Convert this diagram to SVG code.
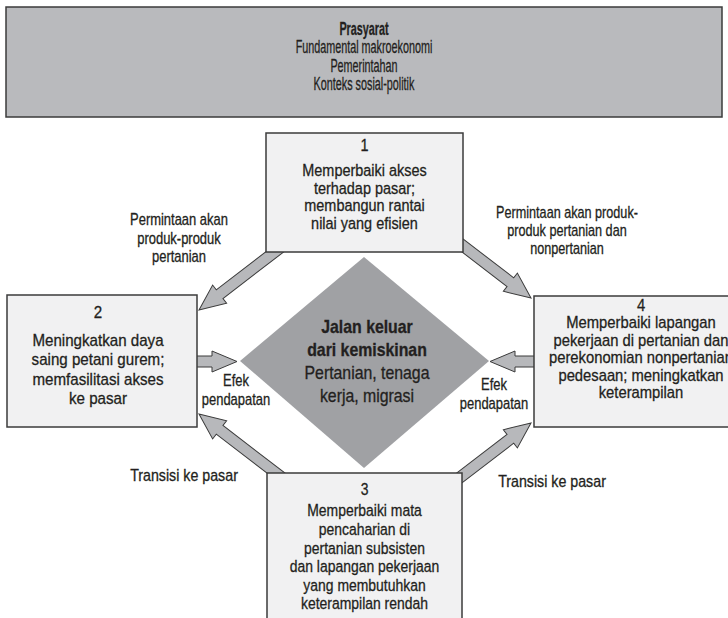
<svg xmlns="http://www.w3.org/2000/svg" width="728" height="618" viewBox="0 0 728 618">
<style>
.box{fill:#f1f1f2;stroke:#3b3b3b;stroke-width:1.5}
.top{fill:#b9babd;stroke:#3b3b3b;stroke-width:1.5}
.arrow{fill:#b7b8bb;stroke:#3b3b3b;stroke-width:1;stroke-linejoin:miter}
.diamond{fill:#a0a1a4}
text{font-family:"Liberation Sans",Arial,sans-serif;fill:#231f20;stroke:#231f20;stroke-width:0.3;text-anchor:middle}
.bt{font-size:17px}
.tp{font-size:18px}
.lb{font-size:16px}
.dm{font-size:18px}
.b{font-weight:bold}
</style>
<rect width="728" height="618" fill="#ffffff"/>
<g id="connectors">
  <polygon class="arrow" transform="translate(199 310) rotate(142.5)" points="-115,-5.5 -26,-5.5 -26,-11.5 0,0 -26,11.5 -26,5.5 -115,5.5"/>
  <polygon class="arrow" transform="translate(531 298) rotate(37.5)" points="-115,-5.5 -26,-5.5 -26,-11.5 0,0 -26,11.5 -26,5.5 -115,5.5"/>
  <polygon class="arrow" transform="translate(199 414) rotate(-142.5)" points="-120,-5.5 -26,-5.5 -26,-11.5 0,0 -26,11.5 -26,5.5 -120,5.5"/>
  <polygon class="arrow" transform="translate(531 423) rotate(-37.5)" points="-120,-5.5 -26,-5.5 -26,-11.5 0,0 -26,11.5 -26,5.5 -120,5.5"/>
  <polygon class="arrow" transform="translate(237 361.5)" points="-50,-5.5 -25,-5.5 -25,-10.5 0,0 -25,10.5 -25,5.5 -50,5.5"/>
  <polygon class="arrow" transform="translate(490 361.5) rotate(180)" points="-55,-5.5 -25,-5.5 -25,-10.5 0,0 -25,10.5 -25,5.5 -55,5.5"/>
</g>
<g id="prasyarat">
  <rect class="top" x="6" y="7" width="716" height="110"/>
  <g transform="translate(364 0) scale(0.6 1)">
    <text class="tp b" x="0" y="35">Prasyarat</text>
    <text class="tp" x="0" y="53.5">Fundamental makroekonomi</text>
    <text class="tp" x="0" y="72">Pemerintahan</text>
    <text class="tp" x="0" y="90.5">Konteks sosial-politik</text>
  </g>
</g>
<g id="node1">
  <rect class="box" x="266" y="133" width="197" height="119"/>
  <g transform="translate(364.5 0) scale(0.85 1)">
    <text class="bt" x="0" y="151.5">1</text>
    <text class="bt" x="0" y="176.5">Memperbaiki akses</text>
    <text class="bt" x="0" y="194">terhadap pasar;</text>
    <text class="bt" x="0" y="211.5">membangun rantai</text>
    <text class="bt" x="0" y="229">nilai yang efisien</text>
  </g>
</g>
<g id="node2">
  <rect class="box" x="7" y="295" width="190" height="132"/>
  <g transform="translate(98 0) scale(0.89 1)">
    <text class="bt" x="0" y="318">2</text>
    <text class="bt" x="0" y="346">Meningkatkan daya</text>
    <text class="bt" x="0" y="365.5">saing petani gurem;</text>
    <text class="bt" x="0" y="385">memfasilitasi akses</text>
    <text class="bt" x="0" y="404.5">ke pasar</text>
  </g>
</g>
<g id="node4">
  <rect class="box" x="534" y="296" width="216" height="131"/>
  <g transform="translate(641 0) scale(0.87 1)">
    <text class="bt" x="0" y="311.5">4</text>
    <text class="bt" x="0" y="328.5">Memperbaiki lapangan</text>
    <text class="bt" x="0" y="346">pekerjaan di pertanian dan</text>
    <text class="bt" x="0" y="363.5">perekonomian nonpertanian</text>
    <text class="bt" x="0" y="381">pedesaan; meningkatkan</text>
    <text class="bt" x="0" y="398.5">keterampilan</text>
  </g>
</g>
<g id="node3">
  <rect class="box" x="267" y="473" width="195" height="170"/>
  <g transform="translate(364.5 0) scale(0.82 1)">
    <text class="bt" x="0" y="495">3</text>
    <text class="bt" x="0" y="516.5">Memperbaiki mata</text>
    <text class="bt" x="0" y="535">pencaharian di</text>
    <text class="bt" x="0" y="553.7">pertanian subsisten</text>
    <text class="bt" x="0" y="572.3">dan lapangan pekerjaan</text>
    <text class="bt" x="0" y="591">yang membutuhkan</text>
    <text class="bt" x="0" y="609.5">keterampilan rendah</text>
  </g>
</g>
<g id="center">
  <polygon class="diamond" points="364,257 489,361 364,468 240,361"/>
  <g transform="translate(367 0) scale(0.88 1)">
    <text class="dm b" x="0" y="333">Jalan keluar</text>
    <text class="dm b" x="0" y="356">dari kemiskinan</text>
    <text class="dm" x="0" y="379.5">Pertanian, tenaga</text>
    <text class="dm" x="0" y="402">kerja, migrasi</text>
  </g>
</g>
<g id="labels">
  <g transform="translate(179 0) scale(0.81 1)">
    <text class="lb" x="0" y="225.5">Permintaan akan</text>
    <text class="lb" x="0" y="244">produk-produk</text>
    <text class="lb" x="0" y="262">pertanian</text>
  </g>
  <g transform="translate(567 0) scale(0.79 1)">
    <text class="lb" x="0" y="218">Permintaan akan produk-</text>
    <text class="lb" x="0" y="236.5">produk pertanian dan</text>
    <text class="lb" x="0" y="254.5">nonpertanian</text>
  </g>
  <g transform="translate(236 0) scale(0.81 1)">
    <text class="lb" x="0" y="386.5">Efek</text>
    <text class="lb" x="0" y="405.5">pendapatan</text>
  </g>
  <g transform="translate(494 0) scale(0.81 1)">
    <text class="lb" x="0" y="390">Efek</text>
    <text class="lb" x="0" y="409.5">pendapatan</text>
  </g>
  <g transform="translate(184 0) scale(0.89 1)">
    <text class="lb" x="0" y="481">Transisi ke pasar</text>
  </g>
  <g transform="translate(552 0) scale(0.89 1)">
    <text class="lb" x="0" y="487.5">Transisi ke pasar</text>
  </g>
</g>
</svg>
